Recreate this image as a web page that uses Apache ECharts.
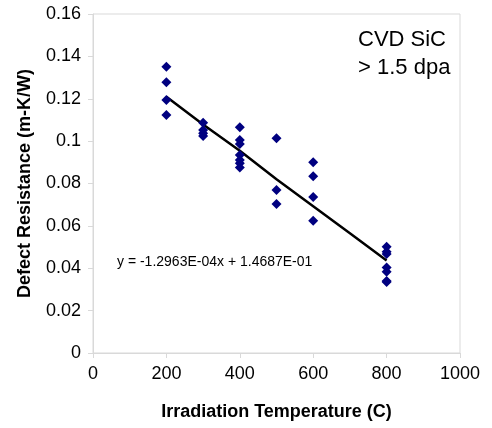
<!DOCTYPE html>
<html><head><meta charset="utf-8">
<script src="https://cdn.jsdelivr.net/npm/echarts@6/dist/echarts.min.js"></script>
<style>html,body{margin:0;padding:0;background:#fff}#c{width:492px;height:428px}</style>
</head><body><div id="c"></div>
<script>
// Measured data (Irradiation Temperature C, Defect Resistance m-K/W)
const temps200 = [200, 200, 200, 200];
const res200 = [0.1351, 0.1278, 0.1194, 0.1123];
const temps300 = [300, 300, 300, 300];
const res300 = [0.1087, 0.1052, 0.1037, 0.1024];
const temps400 = [400, 400, 400, 400, 400, 400, 400];
const res400 = [0.1065, 0.1005, 0.0986, 0.0934, 0.0911, 0.0895, 0.0876];
const temps500 = [500, 500, 500];
const res500 = [0.1013, 0.0769, 0.0703];
const temps600 = [600, 600, 600, 600];
const res600 = [0.0900, 0.0834, 0.0736, 0.0624];
const temps800 = [800, 800, 800, 800, 800, 800, 800];
const res800 = [0.0502, 0.0478, 0.0467, 0.0404, 0.0384, 0.0340, 0.0335];
// Trend line as drawn in the picture
const trendX = [200, 300, 400, 500, 600, 700, 800];
const trendY = [0.1210, 0.1078, 0.0955, 0.0820, 0.0693, 0.0565, 0.0437];
const xTicks = [0, 200, 400, 600, 800, 1000];
const yTicks = [0, 0.02, 0.04, 0.06, 0.08, 0.1, 0.12, 0.14, 0.16];
const equationText = 'y = -1.2963E-04x + 1.4687E-01';
const noteLines = ['CVD SiC', '> 1.5 dpa'];

const pts = [];
[[temps200,res200],[temps300,res300],[temps400,res400],[temps500,res500],[temps600,res600],[temps800,res800]]
  .forEach(([xs,ys]) => xs.forEach((x,i) => pts.push([x, ys[i]])));
const trend = trendX.map((x,i) => [x, trendY[i]]);

const chart = echarts.init(document.getElementById('c'), null, {renderer:'canvas'});
const gray = '#d9d9d9';
const font = 'Liberation Sans, Arial, sans-serif';
chart.setOption({
  animation: false,
  backgroundColor: '#fff',
  grid: {left: 93, right: 32, top: 14, bottom: 75, show: true, borderColor: gray, borderWidth: 1, backgroundColor: 'transparent'},
  xAxis: {
    type: 'value', min: xTicks[0], max: xTicks[xTicks.length-1], interval: 200,
    name: 'Irradiation Temperature (C)', nameLocation: 'middle', nameGap: 50,
    nameTextStyle: {fontFamily: font, fontWeight: 'bold', fontSize: 18, color: '#000'},
    axisLine: {show: true, lineStyle: {color: gray}},
    axisTick: {show: true, length: 5, lineStyle: {color: gray}},
    axisLabel: {fontFamily: font, fontSize: 18, color: '#000', margin: 12, formatter: v => String(v)},
    splitLine: {show: false}
  },
  yAxis: {
    type: 'value', min: yTicks[0], max: yTicks[yTicks.length-1], interval: 0.02,
    name: 'Defect Resistance (m-K/W)', nameLocation: 'middle', nameGap: 59,
    nameTextStyle: {fontFamily: font, fontWeight: 'bold', fontSize: 18, color: '#000'},
    axisLine: {show: true, lineStyle: {color: gray}},
    axisTick: {show: true, length: 5, lineStyle: {color: gray}},
    axisLabel: {fontFamily: font, fontSize: 18, color: '#000', margin: 12, formatter: v => String(+v.toFixed(2))},
    splitLine: {show: false}
  },
  series: [
    {type: 'line', data: trend, symbol: 'none', lineStyle: {color: '#000', width: 2.5}, z: 3},
    {type: 'scatter', data: pts, symbol: 'diamond', symbolSize: 10, itemStyle: {color: '#000080', opacity: 1}, z: 4}
  ],
  graphic: [
    {type: 'text', left: 117, top: 255, style: {text: equationText, font: '14px ' + font, fill: '#000'}},
    {type: 'text', left: 358, top: 26, style: {text: noteLines.join('\n'), font: '22px ' + font, fill: '#000', lineHeight: 28}}
  ]
});
</script></body></html>
